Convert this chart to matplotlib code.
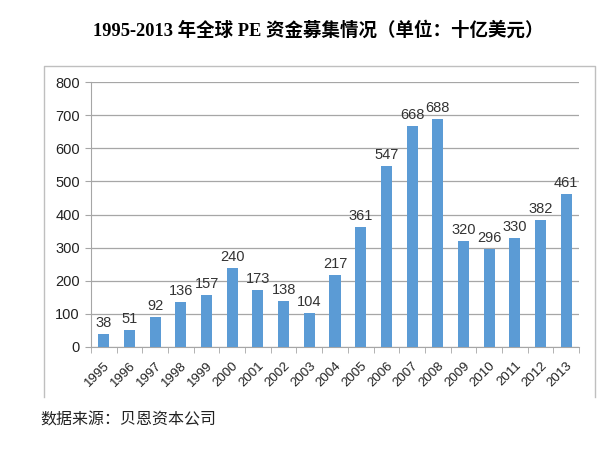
import numpy as np
import matplotlib.pyplot as plt
import matplotlib.transforms as mtransforms
from matplotlib.lines import Line2D

# --------------------------------------------------
# Data
# --------------------------------------------------

years = ["1995", "1996", "1997", "1998", "1999", "2000", "2001", "2002", "2003", "2004",
         "2005", "2006", "2007", "2008", "2009", "2010", "2011", "2012", "2013"]
funds = [38, 51, 92, 136, 157, 240, 173, 138, 104, 217,
         361, 547, 668, 688, 320, 296, 330, 382, 461]

title = "1995-2013 年全球 PE 资金募集情况（单位：十亿美元）"
source = "数据来源：贝恩资本公司"

bar_color = "#5B9BD5"
grid_color = "#A6A6A6"

# --------------------------------------------------
# Figure
# --------------------------------------------------

fig = plt.figure(figsize=(6, 4.49), dpi=100)
ax = fig.add_axes([91 / 600, 1 - 347 / 449, (579 - 91) / 600, (347 - 82) / 449])

x = np.arange(len(years))
ax.bar(x, funds, width=0.43, color=bar_color, zorder=3)

for xi, v in zip(x, funds):
    ax.text(xi, v + 12, str(v), ha="center", va="bottom",
            fontsize=10.5, family="Liberation Sans", color="#333333")

ax.set_xlim(-0.5, len(years) - 0.5)
ax.set_ylim(0, 800)
ax.set_yticks(np.arange(0, 801, 100))
ax.yaxis.grid(True, color=grid_color, linewidth=0.9, zorder=0)

ax.set_xticks(x)
ax.set_xticklabels(years, rotation=45, ha="right", rotation_mode="anchor",
                   fontsize=9.5, family="Liberation Sans", color="#222222")
shift = mtransforms.ScaledTranslation(6 / 100, 0, fig.dpi_scale_trans)
for lbl in ax.get_xticklabels():
    lbl.set_transform(lbl.get_transform() + shift)
ax.set_xticks(np.arange(-0.5, len(years)), minor=True)
ax.tick_params(axis="x", which="major", length=0, pad=9)
ax.tick_params(axis="x", which="minor", length=4, color=grid_color, direction="out")
ax.tick_params(axis="y", length=4, color=grid_color, labelsize=10.5, pad=4,
               labelcolor="#222222")
for lbl in ax.get_yticklabels():
    lbl.set_family("Liberation Sans")

for side in ["top", "right"]:
    ax.spines[side].set_visible(False)
ax.spines["left"].set_color(grid_color)
ax.spines["bottom"].set_color(grid_color)

# chart frame (bottom edge is cut off in the reference)
fx0, fx1 = 44 / 600, 595 / 600
fy0, fy1 = 1 - 397 / 449, 1 - 66 / 449
frame_color = "#BFBFBF"
fig.add_artist(Line2D([fx0, fx0, fx1, fx1], [fy0, fy1, fy1, fy0],
                      transform=fig.transFigure, color=frame_color, linewidth=1))

# --------------------------------------------------
# Title and source
# --------------------------------------------------

fig.text(318 / 600, 1 - 30 / 449, title, ha="center", va="center",
         fontsize=13.3, fontweight="bold",
         family=["Liberation Serif", "Noto Sans CJK SC"])
fig.text(40 / 600, 1 - 420 / 449, source, ha="left", va="center",
         fontsize=11.5, family=["Noto Sans CJK SC", "DejaVu Sans"], color="#222222")

fig.savefig("out.png", dpi=100)
